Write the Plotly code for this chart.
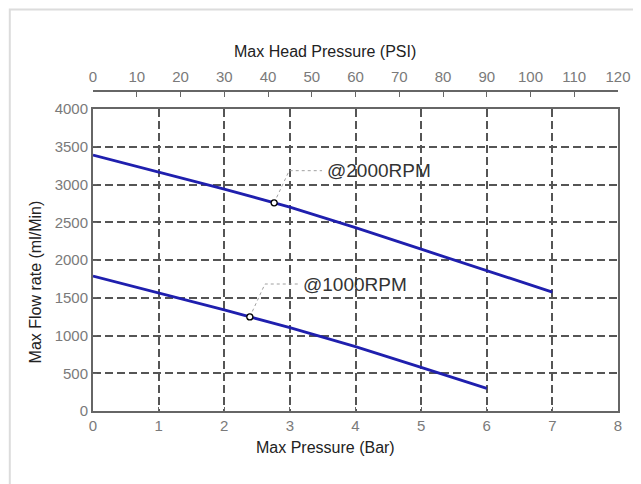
import numpy as np
import plotly.graph_objects as go

# Data
bar_2000 = [0, 1, 2, 3, 4, 5, 6, 7]
flow_2000 = [3390, 3163, 2940, 2700, 2430, 2143, 1860, 1575]
bar_1000 = [0, 1, 2, 3, 4, 5, 6]
flow_1000 = [1788, 1567, 1338, 1103, 852, 579, 300]

labels = ["@1000RPM", "@2000RPM"]
marker_bar = [2.39, 2.76]
leader_corner_bar = [2.62, 2.99]
leader_end_bar = [3.13, 3.49]
leader_y = [1682, 3183]

bar_ticks = list(range(0, 9))
psi_ticks = list(range(0, 130, 10))
flow_ticks = list(range(0, 4500, 500))

FONT = "Liberation Sans"
LINE_COLOR = "#1f1fae"
GRID = "#555555"
BOX = "#666666"
TICKC = "#7a7a7a"

fig = go.Figure()

fig.add_trace(go.Scatter(x=bar_2000, y=flow_2000, mode="lines",
                         line=dict(color=LINE_COLOR, width=2.8),
                         hoverinfo="skip", showlegend=False))
fig.add_trace(go.Scatter(x=bar_1000, y=flow_1000, mode="lines",
                         line=dict(color=LINE_COLOR, width=2.8),
                         hoverinfo="skip", showlegend=False))

series = [(bar_1000, flow_1000), (bar_2000, flow_2000)]
for i, (bx, fy) in enumerate(series):
    my = float(np.interp(marker_bar[i], bx, fy))
    fig.add_trace(go.Scatter(
        x=[marker_bar[i], leader_corner_bar[i], leader_end_bar[i]],
        y=[my, leader_y[i], leader_y[i]],
        mode="lines", line=dict(color="#a0a0a0", width=1, dash="dot"),
        hoverinfo="skip", showlegend=False))
    fig.add_trace(go.Scatter(
        x=[marker_bar[i]], y=[my], mode="markers",
        marker=dict(size=6, color="white", line=dict(color="black", width=1.3)),
        hoverinfo="skip", showlegend=False))
    fig.add_annotation(x=leader_end_bar[i] + 0.04, y=leader_y[i], text=labels[i],
                       xanchor="left", yanchor="middle", showarrow=False,
                       font=dict(family=FONT, size=19, color="#333333"))

# invisible trace for the top (PSI) axis
fig.add_trace(go.Scatter(x=[psi_ticks[0], psi_ticks[-1]], y=[0, 0], xaxis="x2",
                         mode="markers", marker=dict(opacity=0),
                         hoverinfo="skip", showlegend=False))

fig.update_layout(
    width=641, height=484,
    margin=dict(l=85, r=31, t=83, b=81, autoexpand=False),
    paper_bgcolor="white", plot_bgcolor="white",
    font=dict(family=FONT, size=15, color=TICKC),
    xaxis=dict(range=[0, 8], tickvals=bar_ticks, showgrid=True,
               gridcolor=GRID, gridwidth=1.5, griddash="8px,4px",
               showline=True, linecolor=BOX, linewidth=2, mirror=True,
               ticks="inside", ticklen=4, tickcolor=BOX, zeroline=False,
               tickfont=dict(size=15, color=TICKC), automargin=False),
    yaxis=dict(range=[0, 4000], tickvals=flow_ticks, domain=[0, 0.94375],
               showgrid=True, gridcolor=GRID, gridwidth=1.5, griddash="8px,4px",
               showline=True, linecolor=BOX, linewidth=2, mirror=True,
               ticks="inside", ticklen=4, tickcolor=BOX, zeroline=False,
               tickfont=dict(size=15, color=TICKC), automargin=False),
    xaxis2=dict(range=[0, 120], tickvals=psi_ticks, overlaying="x", side="top",
                anchor="free", position=1, showgrid=False, zeroline=False,
                showline=True, linecolor=BOX, linewidth=1.5,
                ticks="inside", ticklen=5, tickcolor=BOX, ticklabelstandoff=2,
                tickfont=dict(size=15, color=TICKC), automargin=False),
)

fig.add_annotation(xref="paper", yref="paper", x=0.442, y=-0.1156,
                   text="Max Pressure (Bar)", showarrow=False,
                   xanchor="center", yanchor="middle",
                   font=dict(family=FONT, size=16, color="#222222"))
fig.add_annotation(xref="paper", yref="paper", x=0.442, y=1.125,
                   text="Max Head Pressure (PSI)", showarrow=False,
                   xanchor="center", yanchor="middle",
                   font=dict(family=FONT, size=16, color="#222222"))
fig.add_annotation(xref="paper", yref="paper", x=-0.1105, y=0.405,
                   text="Max Flow rate (ml/Min)", showarrow=False, textangle=-90,
                   xanchor="center", yanchor="middle",
                   font=dict(family=FONT, size=16, color="#222222"))

# faint outer frame (left/top edges visible)
fig.add_shape(type="rect", xref="paper", yref="paper",
              x0=-0.1585, x1=1.2, y0=-0.4, y1=1.255,
              line=dict(color="#dcdcdc", width=2), layer="below")

fig.write_html("out.html")
